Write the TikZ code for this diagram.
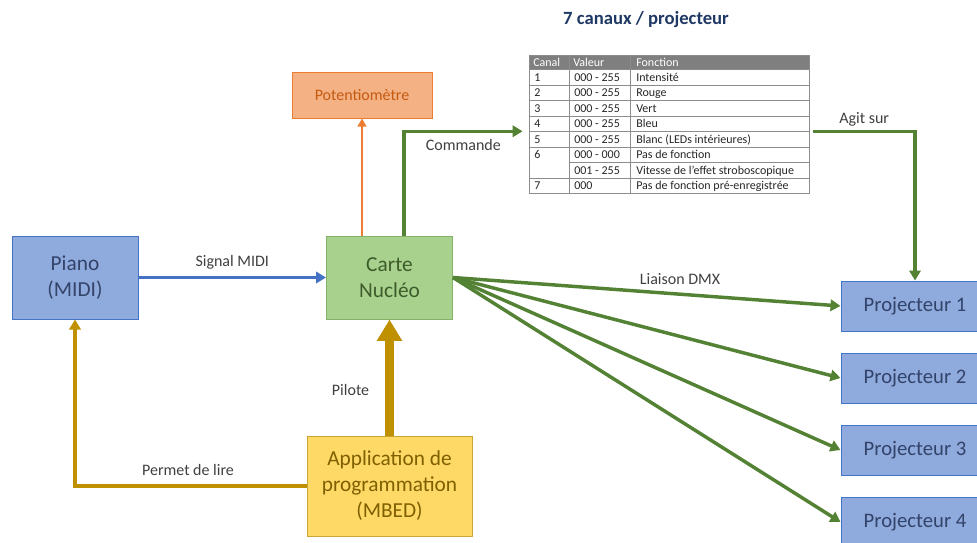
\documentclass[tikz,border=0pt]{standalone}
\usepackage{fontspec}
\setmainfont{Carlito}
\usetikzlibrary{shapes.geometric, arrows.meta, positioning}

\definecolor{bluefill}{HTML}{8FAADC}
\definecolor{blueline}{HTML}{4472C4}
\definecolor{bluetext}{HTML}{33436A}
\definecolor{greenfill}{HTML}{A9D18E}
\definecolor{greenline}{HTML}{82B366}
\definecolor{greentext}{HTML}{3E5C2A}
\definecolor{greenarrow}{HTML}{548235}
\definecolor{orangefill}{HTML}{F4B183}
\definecolor{orangeline}{HTML}{ED7D31}
\definecolor{orangetext}{HTML}{C55A11}
\definecolor{goldfill}{HTML}{FFD966}
\definecolor{goldline}{HTML}{BF9000}
\definecolor{goldtext}{HTML}{7F6000}
\definecolor{labeltext}{HTML}{404040}
\definecolor{titleblue}{HTML}{1F3864}
\definecolor{gridgray}{HTML}{8C8C8C}
\definecolor{headgray}{HTML}{7F7F7F}

\tikzstyle{block} = [draw, rectangle, inner sep=0pt, line width=0.75pt,
    align=center, font=\fontsize{16}{19.5}\selectfont,
    minimum width=94.5pt, minimum height=62.25pt]
\tikzstyle{bluebox} = [block, fill=bluefill, draw=blueline, text=bluetext]
\tikzstyle{greenbox} = [block, fill=greenfill, draw=greenline, text=greentext]
\tikzstyle{orangebox} = [block, fill=orangefill, draw=orangeline, text=orangetext,
    font=\fontsize{12}{14}\selectfont, minimum width=105pt, minimum height=33.75pt]
\tikzstyle{goldbox} = [block, fill=goldfill, draw=goldline!80, text=goldtext,
    minimum width=123.75pt, minimum height=75pt]
\tikzstyle{projbox} = [bluebox, font=\fontsize{15.5}{18}\selectfont,
    minimum width=111pt, minimum height=37.5pt]
\tikzstyle{arrow} = [line width=2.6pt, ->, >={Triangle[length=7.5pt, width=8.5pt]}]
\tikzstyle{thinarrow} = [line width=2.1pt, ->, >={Triangle[length=6pt, width=6.5pt]}]
\tikzstyle{bigarrow} = [line width=6.5pt, ->, >={Triangle[length=16pt, width=18pt]}]
\tikzstyle{lbl} = [text=labeltext, inner sep=1pt, font=\fontsize{12}{14}\selectfont]
\tikzstyle{cell} = [anchor=west, inner sep=0pt, text=black!85,
    text height=1.5ex, text depth=0.3ex, font=\fontsize{9}{10}\selectfont]

\begin{document}
\begin{tikzpicture}[x=0.75pt, y=-0.75pt, node distance=54pt]

    \useasboundingbox (0,0) rectangle (977,542);
    \clip (0,0) rectangle (977,542);

    % Blocks
    \node (piano) [bluebox] at (75,277.5) {Piano\\(MIDI)};
    \node (carte) [greenbox] at (389.5,277.5) {Carte\\Nucléo};
    \node (pot) [orangebox] at (362,95.5) {Potentiomètre};
    \node (app) [goldbox] at (389.5,486) {Application de\\programmation\\(MBED)};
    \node (proj1) [projbox] at (915,306) {Projecteur 1};
    \node (proj2) [projbox, below of=proj1] {Projecteur 2};
    \node (proj3) [projbox, below of=proj2] {Projecteur 3};
    \node (proj4) [projbox, below of=proj3] {Projecteur 4};

    % Table
    \node (titre) [text=titleblue, font=\fontsize{14}{16}\selectfont\bfseries] at (646,20) {7 canaux / projecteur};
    \fill [headgray] (529,55) rectangle (809,69.5);
    \node (tableau) [draw=gridgray, line width=0.6pt, minimum width=210pt, minimum height=103.9pt,
        inner sep=0pt] at (669,124.25) {};
    \foreach \y in {69.5,85,100.5,116,131.5,147,178}
        \draw [gridgray, line width=0.6pt] (529,\y) -- (809,\y);
    \draw [gridgray, line width=0.6pt] (569,162.5) -- (809,162.5);
    \draw [gridgray, line width=0.6pt] (569,55) -- (569,193.5);
    \draw [gridgray, line width=0.6pt] (630,55) -- (630,193.5);
    \node (hcanal) [cell, text=white] at (533,62.25) {Canal};
    \node (hvaleur) [cell, text=white] at (573,62.25) {Valeur};
    \node (hfonction) [cell, text=white] at (636,62.25) {Fonction};
    \foreach \r/\c/\v/\f in {1/1/000 - 255/Intensité, 2/2/000 - 255/Rouge,
        3/3/000 - 255/Vert, 4/4/000 - 255/Bleu, 5/5/000 - 255/Blanc (LEDs intérieures),
        6/6/000 - 000/Pas de fonction, 7//001 - 255/Vitesse de l’effet stroboscopique,
        8/7/000/Pas de fonction pré-enregistrée}
    {
        \node (canal\r) [cell] at (534,{61.75+15.5*\r}) {\c};
        \node (valeur\r) [cell] at (574,{61.75+15.5*\r}) {\v};
        \node (fonction\r) [cell] at (636,{61.75+15.5*\r}) {\f};
    }

    % Arrows
    \draw [arrow, blueline] (piano) -- node [lbl, above=4pt] {Signal MIDI} (carte);
    \draw [thinarrow, orangeline] (carte.north -| pot.south) -- (pot.south);
    \draw [arrow, greenarrow] ([xshift=10.9pt]carte.north) |-
        node [lbl, pos=0.75, below=4pt] {Commande} ([xshift=-4.5pt, yshift=-5.25pt]tableau.west);
    \draw [arrow, greenarrow] ([xshift=3pt, yshift=-5.25pt]tableau.east) -|
        node [lbl, pos=0.25, above=1.5pt] {Agit sur} (proj1.north);
    \draw [arrow, greenarrow] (carte.east) -- node [lbl, pos=0.586, above=5pt] {Liaison DMX} (proj1.west);
    \foreach \n in {2,3,4}
        \draw [arrow, greenarrow] (carte.east) -- (proj\n.west);
    \draw [bigarrow, goldline] (app.north) -- node [lbl, pos=0.39, left=11pt] {Pilote} (carte.south);
    \draw [arrow, goldline] (app.west) -| node [lbl, pos=0.256, above=5.5pt] {Permet de lire} (piano.south);

\end{tikzpicture}
\end{document}
